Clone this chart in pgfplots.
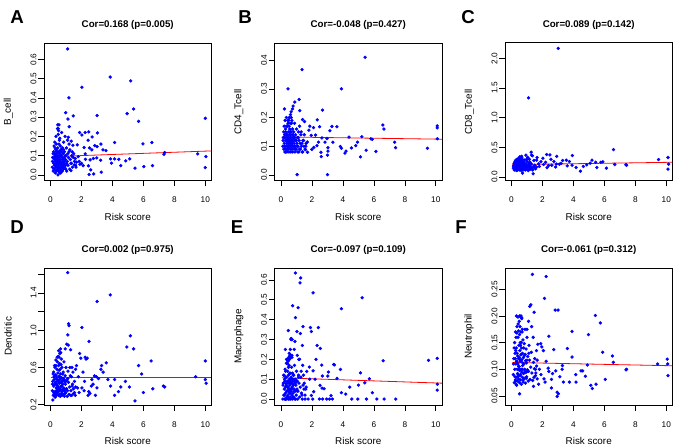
\documentclass[border=0pt]{standalone}
\usepackage{fontspec}
\setmainfont{Liberation Sans}
\usepackage{pgfplots}
\usepackage{pgfplotstable}
\pgfplotsset{compat=1.18}

% shared risk scores of the dense low-score group, one column per cell type
\pgfplotstableread{
x A B C D E F
0.12 0.04 0.1 0.15 0.35 0.0 0.09
0.15 0.09 0.13 0.2 0.45 0.08 0.12
0.18 0.02 0.09 0.12 0.3 0.02 0.075
0.2 0.12 0.17 0.25 0.55 0.12 0.15
0.21 0.06 0.11 0.17 0.4 0.05 0.1
0.23 0.15 0.14 0.22 0.5 0.1 0.13
0.25 0.03 0.08 0.13 0.32 0.0 0.08
0.26 0.08 0.19 0.28 0.62 0.15 0.17
0.28 0.11 0.12 0.18 0.42 0.06 0.11
0.3 0.05 0.1 0.14 0.34 0.03 0.085
0.31 0.01 0.15 0.23 0.52 0.11 0.14
0.33 0.07 0.09 0.11 0.29 0.0 0.07
0.34 0.13 0.13 0.19 0.44 0.07 0.115
0.35 0.04 0.2 0.3 0.68 0.18 0.18
0.37 0.09 0.11 0.16 0.38 0.04 0.1
0.38 0.16 0.08 0.12 0.31 0.01 0.078
0.4 0.02 0.14 0.21 0.48 0.09 0.125
0.41 0.06 0.12 0.18 0.41 0.06 0.11
0.42 0.11 0.17 0.26 0.58 0.14 0.16
0.44 0.08 0.1 0.15 0.36 0.02 0.09
0.45 0.03 0.13 0.2 0.46 0.08 0.12
0.46 0.14 0.09 0.13 0.33 0.0 0.082
0.48 0.05 0.15 0.24 0.54 0.12 0.145
0.49 0.1 0.12 0.17 0.39 0.05 0.105
0.5 0.21 0.19 0.32 0.72 0.21 0.19
0.51 0.07 0.08 0.12 0.3 0.0 0.075
0.52 0.02 0.11 0.16 0.37 0.04 0.098
0.54 0.12 0.14 0.22 0.5 0.1 0.135
0.55 0.04 0.1 0.14 0.35 0.03 0.088
0.56 0.09 0.16 0.25 0.57 0.13 0.15
0.57 0.18 0.12 0.18 0.43 0.07 0.115
0.58 0.06 0.09 0.13 0.31 0.01 0.08
0.6 0.01 0.13 0.2 0.47 0.09 0.127
0.61 0.11 0.21 0.33 0.75 0.22 0.2
0.62 0.08 0.11 0.16 0.38 0.05 0.1
0.63 0.15 0.08 0.11 0.29 0.0 0.072
0.65 0.03 0.15 0.23 0.53 0.11 0.14
0.66 0.07 0.1 0.15 0.36 0.04 0.095
0.67 0.13 0.12 0.19 0.44 0.08 0.118
0.68 0.05 0.18 0.28 0.63 0.16 0.17
0.7 0.1 0.09 0.13 0.32 0.02 0.085
0.71 0.02 0.14 0.21 0.49 0.1 0.13
0.72 0.22 0.11 0.17 0.4 0.06 0.107
0.74 0.06 0.16 0.26 0.6 0.13 0.155
0.75 0.09 0.08 0.12 0.3 0.0 0.076
0.77 0.04 0.13 0.2 0.46 0.09 0.122
0.78 0.14 0.1 0.15 0.36 0.03 0.092
0.8 0.07 0.12 0.18 0.42 0.07 0.11
0.82 0.11 0.15 0.24 0.55 0.12 0.148
0.83 0.03 0.09 0.13 0.31 0.01 0.083
0.85 0.17 0.11 0.16 0.38 0.05 0.1
0.87 0.06 0.18 0.29 0.66 0.17 0.175
0.88 0.09 0.13 0.2 0.47 0.09 0.128
0.9 0.12 0.08 0.12 0.29 0.0 0.074
0.92 0.04 0.1 0.15 0.35 0.04 0.094
0.94 0.2 0.14 0.22 0.51 0.1 0.138
0.96 0.08 0.12 0.18 0.42 0.07 0.112
0.98 0.05 0.09 0.14 0.33 0.02 0.086
1.0 0.1 0.16 0.26 0.6 0.14 0.16
1.03 0.14 0.11 0.16 0.37 0.05 0.099
1.05 0.02 0.13 0.2 0.46 0.09 0.124
1.08 0.07 0.08 0.11 0.29 0.0 0.078
1.1 0.18 0.1 0.15 0.35 0.04 0.096
1.13 0.05 0.15 0.24 0.56 0.12 0.145
1.16 0.09 0.12 0.19 0.44 0.08 0.117
1.2 0.12 0.09 0.13 0.31 0.01 0.081
1.24 0.03 0.11 0.17 0.39 0.06 0.104
1.28 0.08 0.14 0.22 0.51 0.11 0.132
1.32 0.06 0.1 0.15 0.35 0.03 0.093
1.37 0.1 0.08 0.12 0.3 0.0 0.079
1.42 0.04 0.12 0.18 0.42 0.07 0.113
1.48 0.09 0.1 0.16 0.37 0.05 0.101
1.55 0.07 0.09 0.14 0.33 0.02 0.088
1.62 0.05 0.11 0.17 0.39 0.06 0.106
0.13 0.07 0.12 0.18 0.42 0.07 0.11
0.17 0.11 0.15 0.23 0.53 0.12 0.14
0.22 0.03 0.1 0.14 0.33 0.02 0.086
0.24 0.09 0.13 0.2 0.47 0.09 0.12
0.27 0.05 0.09 0.13 0.31 0.0 0.078
0.29 0.14 0.16 0.26 0.6 0.14 0.16
0.32 0.08 0.12 0.19 0.44 0.08 0.115
0.36 0.02 0.14 0.22 0.51 0.11 0.13
0.39 0.12 0.1 0.15 0.35 0.04 0.092
0.43 0.05 0.19 0.31 0.71 0.2 0.185
0.47 0.26 0.11 0.17 0.4 0.06 0.105
0.5 0.09 0.13 0.2 0.46 0.09 0.122
0.53 0.04 0.2 0.34 0.78 0.23 0.2
0.55 0.16 0.12 0.19 0.44 0.08 0.118
0.59 0.07 0.1 0.15 0.35 0.03 0.09
0.62 0.03 0.15 0.25 0.58 0.13 0.15
0.64 0.1 0.13 0.21 0.49 0.1 0.128
0.69 0.06 0.11 0.17 0.4 0.05 0.1
0.73 0.12 0.12 0.19 0.44 0.08 0.112
0.76 0.02 0.1 0.15 0.34 0.01 0.08
0.79 0.08 0.14 0.23 0.53 0.12 0.14
0.84 0.05 0.13 0.21 0.48 0.1 0.126
0.86 0.13 0.1 0.16 0.37 0.04 0.097
0.91 0.07 0.12 0.19 0.45 0.08 0.116
0.95 0.1 0.09 0.14 0.32 0.0 0.083
0.99 0.03 0.12 0.19 0.45 0.09 0.117
1.04 0.06 0.1 0.16 0.37 0.04 0.096
1.12 0.11 0.13 0.21 0.48 0.11 0.13
0.45 0.24 0.18 0.29 0.66 0.19 0.172
0.52 0.23 0.17 0.27 0.62 0.17 0.165
0.6 0.19 0.18 0.28 0.64 0.21 0.17
0.35 0.2 0.17 0.27 0.62 0.2 0.168
0.28 0.17 0.14 0.22 0.51 0.25 0.135
0.4 0.13 0.12 0.18 0.42 0.18 0.11
0.66 0.01 0.2 0.33 0.76 0.3 0.195
0.48 0.0 0.1 0.16 0.37 0.16 0.1
0.58 0.12 0.14 0.22 0.5 0.22 0.145
0.55 0.06 0.2 0.31 0.71 0.2 0.18
0.65 0.04 0.22 0.35 0.8 0.3 0.197
0.7 0.13 0.19 0.3 0.69 0.21 0.175
0.3 0.1 0.08 0.12 0.28 0.0 0.072
0.42 0.07 0.09 0.14 0.33 0.01 0.087
}\cluster

\pgfplotsset{
  panel/.style={
    scale only axis,
    width=125.6pt,
    xmin=-0.42, xmax=10.4,
    xtick={0,2,4,6,8,10},
    tick align=outside,
    xtick pos=left, ytick pos=left,
    major tick length=4.2pt,
    axis line style={draw=black, line width=0.65pt},
    every outer x axis line/.append style={draw=black},
    every outer y axis line/.append style={draw=black},
    tick style={black, line width=0.5pt},
    /pgf/number format/assume math mode=true,
    ticklabel style={font=\fontsize{6.2}{7}\selectfont},
    xticklabel style={yshift=-4.5pt},
    yticklabel style={xshift=2pt, rotate=90, anchor=south, /pgf/number format/fixed, /pgf/number format/fixed zerofill, /pgf/number format/precision=1},
    xlabel={Risk score},
    xlabel style={font=\fontsize{7.4}{8}\selectfont, at={(axis description cs:0.5,-0.262)}, anchor=center},
    ylabel style={font=\fontsize{7.4}{8}\selectfont, at={(axis description cs:-0.214,0.5)}, anchor=center},
    title style={font=\bfseries\fontsize{7.3}{8}\selectfont, at={(axis description cs:0.5,1)}, anchor=center, yshift=7.3pt},
  },
  pts/.style={only marks, mark=*, mark size=1.05pt, color=blue, mark options={draw=blue, fill=blue}},
  fit/.style={no marks, color=red, line width=0.6pt},
}

\begin{document}
\begin{tikzpicture}
\useasboundingbox (0,0) rectangle (510pt,334.5pt);

% ---- A ----
\begin{axis}[panel, at={(33pt,199pt)}, anchor=south west, height=103.3pt,
  ymin=-0.03, ymax=0.685, ytick={0,0.1,...,0.6},
  ylabel={B\_cell}, title={Cor=0.168 (p=0.005)}]
\addplot[pts] table[x=x, y=A] {\cluster};
\addplot[pts] coordinates {(1.11,0.654) (3.86,0.508) (2.03,0.455) (5.18,0.488) (1.19,0.40) (5.37,0.342) (4.95,0.318) (5.69,0.278) (10.0,0.294) (3.01,0.308) (1.47,0.306) (0.98,0.323) (1.13,0.29) (1.21,0.25) (0.55,0.26) (0.5,0.24) (1.88,0.22) (2.03,0.207) (2.24,0.22) (2.47,0.223) (2.69,0.197) (3.03,0.218) (2.43,0.18) (2.86,0.152) (3.26,0.16) (3.39,0.13) (3.58,0.126) (4.14,0.168) (2.17,0.142) (2.52,0.14) (3.01,0.147) (2.67,0.13) (1.73,0.156) (1.34,0.175) (1.15,0.195) (1.45,0.154) (9.51,0.109) (10.04,0.095) (10.0,0.038) (7.33,0.107) (7.38,0.116) (6.55,0.168) (5.97,0.161) (6.03,0.043) (6.59,0.048) (5.46,0.035) (5.12,0.083) (4.86,0.073) (4.54,0.048) (4.41,0.081) (4.14,0.083) (3.88,0.083) (3.94,0.061) (3.28,0.014) (2.79,0.005) (2.49,0.002) (2.6,0.026) (2.45,0.047) (3.24,0.076) (2.99,0.088) (2.77,0.085) (2.56,0.078) (2.26,0.081) (2.11,0.048) (1.9,0.055) (1.68,0.066) (1.54,0.052) (1.41,0.095) (1.32,0.022) (1.79,0.095) (2.24,0.109) (1.5,0.11) (1.6,0.085) (1.25,0.13) (1.35,0.06) (1.65,0.04) (1.85,0.07) (2.0,0.06) (1.2,0.16) (1.4,0.12)};
\addplot[fit] coordinates {(0.05,0.0945) (10.4,0.1245)};
\end{axis}

% ---- B ----
\begin{axis}[panel, at={(205.9pt,199pt)}, anchor=south west, height=103.3pt,
  ymin=-0.02, ymax=0.46, ytick={0,0.1,...,0.4},
  ylabel={CD4\_Tcell}, title={Cor=-0.048 (p=0.427)}]
\addplot[pts] table[x=x, y=B] {\cluster};
\addplot[pts] coordinates {(5.43,0.41) (1.36,0.367) (3.9,0.3) (0.45,0.3) (1.17,0.263) (0.89,0.254) (0.78,0.24) (0.74,0.23) (0.22,0.23) (2.68,0.226) (1.21,0.224) (6.58,0.174) (6.65,0.16) (10.09,0.171) (10.09,0.164) (10.1,0.126) (3.29,0.169) (3.61,0.168) (1.39,0.193) (1.52,0.186) (2.49,0.168) (3.16,0.154) (2.34,0.192) (2.1,0.165) (1.86,0.17) (1.8,0.156) (1.95,0.138) (2.23,0.139) (2.64,0.129) (2.97,0.127) (4.39,0.132) (5.22,0.133) (4.94,0.114) (5.8,0.126) (5.89,0.124) (7.34,0.114) (7.4,0.095) (9.46,0.093) (5.5,0.086) (6.13,0.082) (5.13,0.063) (4.83,0.102) (4.55,0.094) (4.2,0.083) (4.13,0.076) (3.83,0.099) (3.9,0.093) (3.35,0.114) (3.03,0.095) (3.03,0.083) (3.0,0.069) (2.58,0.079) (2.6,0.064) (2.84,0.114) (2.42,0.114) (2.32,0.102) (1.99,0.089) (2.12,0.096) (1.71,0.079) (1.58,0.088) (1.04,0.001) (3.0,0.001) (1.3,0.15) (1.45,0.12) (1.6,0.1) (1.25,0.09) (1.4,0.08) (1.7,0.115) (1.5,0.14) (1.35,0.11) (1.2,0.17) (1.15,0.08)};
\addplot[fit] coordinates {(0.05,0.1325) (10.4,0.1245)};
\end{axis}

% ---- C ----
\begin{axis}[panel, at={(378.75pt,199pt)}, anchor=south west, height=103.3pt,
  ymin=-0.06, ymax=2.26, ytick={0,0.5,...,2},
  ylabel={CD8\_Tcell}, title={Cor=0.089 (p=0.142)}]
\addplot[pts] table[x=x, y=C] {\cluster};
\addplot[pts] coordinates {(3.02,2.168) (1.1,1.335) (6.59,0.464) (3.93,0.363) (9.5,0.296) (10.11,0.33) (10.15,0.218) (10.11,0.134) (7.39,0.21) (7.43,0.2) (6.67,0.212) (6.13,0.151) (5.9,0.257) (5.77,0.25) (5.51,0.162) (5.44,0.25) (5.2,0.285) (5.08,0.235) (4.86,0.207) (4.64,0.18) (4.45,0.1) (4.17,0.162) (3.91,0.2) (3.54,0.285) (3.74,0.262) (3.3,0.28) (3.09,0.218) (2.92,0.35) (2.48,0.374) (2.27,0.38) (2.74,0.262) (2.4,0.196) (2.03,0.318) (2.07,0.212) (1.62,0.285) (1.75,0.223) (1.27,0.42) (1.3,0.37) (1.35,0.36) (0.93,0.37) (1.4,0.056) (0.71,0.067) (1.5,0.2) (1.55,0.15) (1.8,0.18) (1.9,0.26) (2.2,0.25) (2.3,0.16) (2.6,0.2) (2.85,0.17) (3.2,0.23) (1.2,0.25) (1.15,0.3) (1.45,0.28) (2.9,0.22) (2.55,0.3) (3.6,0.19) (1.65,0.33) (1.0,0.3) (1.05,0.33)};
\addplot[fit] coordinates {(0.05,0.21) (10.4,0.25)};
\end{axis}

% ---- D ----
\begin{axis}[panel, at={(33pt,30.75pt)}, anchor=south west, height=102.75pt,
  ymin=0.196, ymax=1.67, ytick={0.2,0.4,...,1.6},
  yticklabels={0.2,,0.6,,1.0,,1.4,},
  ylabel={Dendritic}, title={Cor=0.002 (p=0.975)}]
\addplot[pts] table[x=x, y=D] {\cluster};
\addplot[pts] coordinates {(1.11,1.62) (3.86,1.38) (3.01,1.31) (1.17,1.07) (1.2,1.05) (2.03,1.03) (5.16,0.94) (1.12,0.95) (2.49,0.88) (1.05,0.85) (1.15,0.84) (0.95,0.8) (1.3,0.79) (4.93,0.82) (5.37,0.8) (5.69,0.62) (6.5,0.67) (10.0,0.67) (9.38,0.5) (10.0,0.47) (10.06,0.43) (5.89,0.53) (6.0,0.33) (6.61,0.37) (5.46,0.24) (7.29,0.4) (7.38,0.39) (4.84,0.45) (5.1,0.39) (4.54,0.39) (4.39,0.34) (4.14,0.3) (4.14,0.47) (3.71,0.47) (3.88,0.4) (3.6,0.65) (3.3,0.62) (3.26,0.58) (2.84,0.51) (2.97,0.5) (2.67,0.47) (2.37,0.7) (2.24,0.71) (2.3,0.69) (1.88,0.75) (1.96,0.7) (1.68,0.62) (1.39,0.6) (2.43,0.3) (2.47,0.34) (2.64,0.4) (2.17,0.35) (2.03,0.38) (0.15,0.25) (1.45,0.55) (1.5,0.32) (1.6,0.3) (1.55,0.45) (1.75,0.38) (1.85,0.33) (1.4,0.4) (1.3,0.3) (2.1,0.55) (2.2,0.45) (2.55,0.32) (2.75,0.42) (3.1,0.48) (3.4,0.55) (1.62,0.58) (1.8,0.5) (1.25,0.6) (1.35,0.5) (3.0,0.38) (2.9,0.3)};
\addplot[fit] coordinates {(0.05,0.49) (10.4,0.49)};
\end{axis}

% ---- E ----
\begin{axis}[panel, at={(205.9pt,30.75pt)}, anchor=south west, height=102.75pt,
  ymin=-0.03, ymax=0.66, ytick={0,0.1,...,0.6},
  ylabel={Macrophage}, title={Cor=-0.097 (p=0.109)}]
\addplot[pts] table[x=x, y=E] {\cluster};
\addplot[pts] coordinates {(0.93,0.635) (1.27,0.61) (1.23,0.585) (2.07,0.535) (5.24,0.51) (3.9,0.455) (0.75,0.47) (1.1,0.46) (0.93,0.41) (0.47,0.345) (1.42,0.365) (1.9,0.36) (2.41,0.36) (1.96,0.34) (1.03,0.34) (1.25,0.33) (0.65,0.305) (0.72,0.3) (1.38,0.27) (2.33,0.27) (2.54,0.255) (9.53,0.195) (10.09,0.205) (6.6,0.193) (10.1,0.075) (10.09,0.045) (3.84,0.149) (3.4,0.174) (3.45,0.172) (2.63,0.171) (2.26,0.2) (1.83,0.161) (2.07,0.142) (1.66,0.139) (3.06,0.136) (3.02,0.116) (2.67,0.116) (3.62,0.104) (5.13,0.132) (5.71,0.102) (5.41,0.082) (5.0,0.07) (5.9,0.032) (4.44,0.06) (4.18,0.025) (3.9,0.032) (3.23,0.017) (2.78,0.052) (2.52,0.069) (2.65,0.055) (2.11,0.037) (1.96,0.018) (2.2,0.1) (1.85,0.1) (1.5,0.08) (1.45,0.12) (1.6,0.05) (1.35,0.02) (1.55,0.0) (1.75,0.0) (2.05,0) (2.48,0) (2.69,0) (2.95,0) (3.13,0) (3.32,0) (4.57,0) (4.96,0) (5.52,0) (6.19,0) (6.66,0) (7.41,0) (1.4,0.17) (1.2,0.2) (1.3,0.14) (0.9,0.29) (0.85,0.25) (1.05,0.22) (1.15,0.2) (0.7,0.22) (0.6,0.25)};
\addplot[fit] coordinates {(0.05,0.107) (10.4,0.080)};
\end{axis}

% ---- F ----
\begin{axis}[panel, at={(378.75pt,30.75pt)}, anchor=south west, height=102.75pt,
  ymin=0.033, ymax=0.29, ytick={0.05,0.1,...,0.25},
  yticklabel style={/pgf/number format/precision=2},
  ylabel={Neutrophil}, title={Cor=-0.061 (p=0.312)}]
\addplot[pts] table[x=x, y=F] {\cluster};
\addplot[pts] coordinates {(1.35,0.278) (2.24,0.274) (2.13,0.233) (1.25,0.221) (1.18,0.218) (1.46,0.207) (2.82,0.211) (3.01,0.211) (5.42,0.201) (5.74,0.187) (0.32,0.2) (0.42,0.198) (3.91,0.171) (4.97,0.165) (2.41,0.162) (3.61,0.139) (5.89,0.132) (6.52,0.125) (6.58,0.113) (7.4,0.099) (7.43,0.1) (9.44,0.11) (10.06,0.119) (10.09,0.11) (10.11,0.088) (3.91,0.123) (3.29,0.107) (3.27,0.1) (4.49,0.097) (4.6,0.097) (4.9,0.108) (4.77,0.087) (4.15,0.09) (6.06,0.081) (5.46,0.072) (5.12,0.07) (5.22,0.064) (4.17,0.076) (3.74,0.076) (3.35,0.076) (3.12,0.086) (2.95,0.057) (3.03,0.054) (2.95,0.049) (2.58,0.081) (2.58,0.065) (2.86,0.097) (2.65,0.092) (2.41,0.096) (2.24,0.115) (2.17,0.076) (2.37,0.102) (2.1,0.082) (2.73,0.137) (1.96,0.142) (1.7,0.147) (1.89,0.148) (2.06,0.135) (1.61,0.135) (1.66,0.117) (1.57,0.093) (1.66,0.082) (1.42,0.068) (0.52,0.054) (1.3,0.18) (1.4,0.16) (1.5,0.12) (1.55,0.1) (1.8,0.1) (1.9,0.09) (1.45,0.085) (1.75,0.072) (1.1,0.19) (1.0,0.175)};
\addplot[fit] coordinates {(0.05,0.1128) (10.4,0.1066)};
\end{axis}

% panel letters
\begin{scope}[every node/.style={font=\bfseries\fontsize{14}{14}\selectfont, anchor=center}]
\node at (12.75pt,321.75pt) {A};
\node at (183.75pt,321.75pt) {B};
\node at (351pt,321.75pt) {C};
\node at (12.75pt,163.9pt) {D};
\node at (177.75pt,163.9pt) {E};
\node at (345.75pt,163.9pt) {F};
\end{scope}
\end{tikzpicture}
\end{document}
